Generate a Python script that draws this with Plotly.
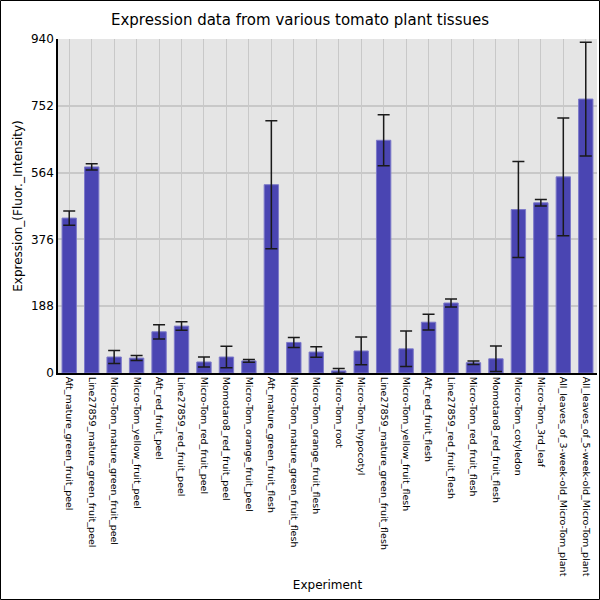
import plotly.graph_objects as go

categories = [
    "Aft_mature_green_fruit_peel",
    "Line27859_mature_green_fruit_peel",
    "Micro-Tom_mature_green_fruit_peel",
    "Micro-Tom_yellow_fruit_peel",
    "Aft_red_fruit_peel",
    "Line27859_red_fruit_peel",
    "Micro-Tom_red_fruit_peel",
    "Momotaro8_red_fruit_peel",
    "Micro-Tom_orange_fruit_peel",
    "Aft_mature_green_fruit_flesh",
    "Micro-Tom_mature_green_fruit_flesh",
    "Micro-Tom_orange_fruit_flesh",
    "Micro-Tom_root",
    "Micro-Tom_hypocotyl",
    "Line27859_mature_green_fruit_flesh",
    "Micro-Tom_yellow_fruit_flesh",
    "Aft_red_fruit_flesh",
    "Line27859_red_fruit_flesh",
    "Micro-Tom_red_fruit_flesh",
    "Momotaro8_red_fruit_flesh",
    "Micro-Tom_cotyledon",
    "Micro-Tom_3rd_leaf",
    "All_leaves_of_3-week-old_Micro-Tom_plant",
    "All_leaves_of_5-week-old_Micro-Tom_plant",
]

values = [436, 580, 45, 42, 116, 132, 31, 45, 34, 530, 86,
          59, 6, 62, 655, 68, 143, 197, 29, 40, 460, 479, 552, 771]

errors = [20, 9, 18, 7, 20, 12, 14, 30, 4, 180, 14,
          15, 7, 39, 72, 50, 22, 11, 5, 36, 135, 9, 166, 160]

y_ticks = [0, 188, 376, 564, 752, 940]

fig = go.Figure(
    go.Bar(
        x=categories,
        y=values,
        error_y=dict(type="data", array=errors, visible=True,
                     color="#1a1a1a", thickness=1.5, width=6),
        marker=dict(color="#4a45b2", line=dict(color="#7d7ac9", width=1)),
    )
)

L, R, T, B = 58, 3, 39, 227
pw, ph = 600 - L - R, 600 - T - B

fig.update_layout(
    width=600, height=600,
    margin=dict(l=L, r=R, t=T, b=B, pad=0),
    paper_bgcolor="white",
    plot_bgcolor="#e5e5e5",
    bargap=0.36,
    showlegend=False,
    font=dict(family="DejaVu Sans", color="black"),
    title=dict(text="Expression data from various tomato plant tissues",
               x=0.5, xanchor="center", y=1 - 20 / 600, yanchor="middle",
               font=dict(size=15, family="DejaVu Sans", color="black")),
    xaxis=dict(
        title=dict(text="Experiment", font=dict(size=12), standoff=5),
        tickangle=90,
        tickfont=dict(size=9.5, family="DejaVu Sans"),
        showgrid=True, gridcolor="#c8c8c8", gridwidth=1,
        showline=True, linecolor="black", linewidth=1.5,
        ticks="", automargin=False,
    ),
    yaxis=dict(
        title=dict(text="Expression_(Fluor._Intensity)", font=dict(size=12), standoff=6),
        range=[0, 940],
        tickvals=y_ticks,
        ticktext=[str(v) for v in y_ticks],
        tickfont=dict(size=12, family="DejaVu Sans"),
        showgrid=True, gridcolor="#c8c8c8", gridwidth=1.5,
        showline=True, linecolor="black", linewidth=1.5,
        zeroline=False, ticks="", automargin=False,
    ),
    shapes=[dict(
        type="rect", xref="paper", yref="paper",
        x0=-(L - 0.5) / pw, x1=(600 - L - 0.5) / pw,
        y0=-(B - 0.5) / ph, y1=(600 - B - 0.5) / ph,
        line=dict(color="black", width=1), fillcolor="rgba(0,0,0,0)",
        layer="above",
    )],
)

fig.write_html(
    "out.html",
    config={"displayModeBar": False},
    post_script="document.body.style.margin='0';document.body.style.overflow='hidden';",
)
